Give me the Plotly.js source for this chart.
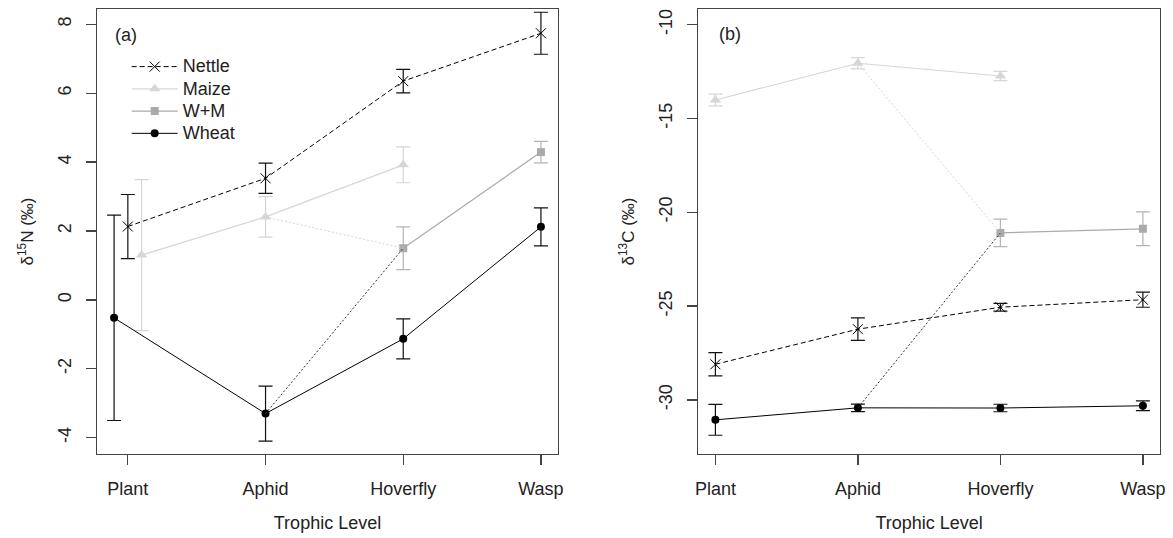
<!DOCTYPE html>
<html>
<head>
<meta charset="utf-8">
<script src="https://cdn.plot.ly/plotly-3.0.1.min.js"></script>
<style>html,body{margin:0;padding:0;background:#fff;}#chart{width:1173px;height:538px;}</style>
</head>
<body>
<div id="chart"></div>
<script>
// ---- data ----
const levels = ['Plant', 'Aphid', 'Hoverfly', 'Wasp'];
const seriesNames = ['Nettle', 'Maize', 'W+M', 'Wheat'];
const ticksN = [-4, -2, 0, 2, 4, 6, 8];
const ticksC = [-30, -25, -20, -15, -10];

// delta 15N (panel a)
const nettleN   = [2.13, 3.53, 6.35, 7.74];
const nettleNse = [0.93, 0.44, 0.34, 0.61];
const maizeN    = [1.30, 2.41, 3.92, null];
const maizeNse  = [2.19, 0.59, 0.52, null];
const wmN       = [null, null, 1.50, 4.29];
const wmNse     = [null, null, 0.62, 0.31];
const wheatN    = [-0.52, -3.30, -1.13, 2.12];
const wheatNse  = [2.98, 0.80, 0.58, 0.55];

// delta 13C (panel b)
const nettleC   = [-28.10, -26.23, -25.06, -24.66];
const nettleCse = [0.62, 0.60, 0.21, 0.40];
const maizeC    = [-14.02, -12.06, -12.74, null];
const maizeCse  = [0.31, 0.30, 0.25, null];
const wmC       = [null, null, -21.10, -20.88];
const wmCse     = [null, null, 0.73, 0.90];
const wheatC    = [-31.06, -30.42, -30.43, -30.31];
const wheatCse  = [0.82, 0.20, 0.20, 0.26];

// ---- styling ----
const FONT = 'Liberation Sans, Arial, sans-serif';
const TXT = '#222';
const LIGHT = '#d6d6d6';
const MID = '#aaaaaa';
const pos = levels.map((_, i) => i + 1);
// small horizontal dodge used at the Plant level in panel (a)
const dodgeA = {Nettle: [0,0,0,0], Maize: [0.1,0,0,0], 'W+M': [0,0,0,0], Wheat: [-0.1,0,0,0]};

const styles = {
  'Nettle': {line: {color: '#000', width: 1, dash: '5px,3px'}, marker: {symbol: 'x-thin-open', size: 10, color: '#000', line: {color: '#000', width: 1}}, err: '#111'},
  'Maize':  {line: {color: LIGHT, width: 1.2}, marker: {symbol: 'triangle-up', size: 10, color: LIGHT}, err: LIGHT},
  'W+M':    {line: {color: MID, width: 1.2}, marker: {symbol: 'square', size: 8, color: MID}, err: '#b4b4b4'},
  'Wheat':  {line: {color: '#000', width: 1}, marker: {symbol: 'circle', size: 8, color: '#000'}, err: '#111'}
};

function mk(name, vals, se, xa, ya, dodge, showleg) {
  const st = styles[name];
  const x = pos.map((p, i) => p + (dodge ? dodge[i] : 0));
  return {
    type: 'scatter', mode: 'lines+markers',
    name: '<span style="font-size:18px">' + name + '</span>',
    x: x, y: vals, xaxis: xa, yaxis: ya,
    connectgaps: false,
    line: st.line, marker: st.marker,
    error_y: {type: 'data', array: se, visible: true, color: st.err, thickness: 1.2, width: 7},
    showlegend: showleg, hoverinfo: 'x+y'
  };
}
function link(a, b, color, xa, ya) {
  // dotted connector from the Aphid value of a series to the W+M Hoverfly value
  return {type: 'scatter', mode: 'lines', x: [pos[1], pos[2]], y: [a, b], xaxis: xa, yaxis: ya,
    line: {color: color, width: 1, dash: '2px,2px'}, showlegend: false, hoverinfo: 'skip'};
}

const data = [
  mk('Nettle', nettleN, nettleNse, 'x', 'y', dodgeA.Nettle, true),
  mk('Maize', maizeN, maizeNse, 'x', 'y', dodgeA.Maize, true),
  mk('W+M', wmN, wmNse, 'x', 'y', dodgeA['W+M'], true),
  mk('Wheat', wheatN, wheatNse, 'x', 'y', dodgeA.Wheat, true),
  link(maizeN[1], wmN[2], LIGHT, 'x', 'y'),
  link(wheatN[1], wmN[2], '#333', 'x', 'y'),
  mk('Nettle', nettleC, nettleCse, 'x2', 'y2', null, false),
  mk('Maize', maizeC, maizeCse, 'x2', 'y2', null, false),
  mk('W+M', wmC, wmCse, 'x2', 'y2', null, false),
  mk('Wheat', wheatC, wheatCse, 'x2', 'y2', null, false),
  link(maizeC[1], wmC[2], LIGHT, 'x2', 'y2'),
  link(wheatC[1], wmC[2], '#333', 'x2', 'y2')
];

const W = 1173, H = 538;
const axBase = {
  showgrid: false, zeroline: false, showline: true, mirror: true,
  linecolor: '#444', linewidth: 1.3, ticks: 'outside', ticklen: 10, tickcolor: '#444', tickwidth: 1.3,
  tickfont: {family: FONT, size: 18, color: TXT}
};
const xBase = Object.assign({}, axBase, {
  tickmode: 'array', tickvals: pos, ticktext: levels, ticklabelstandoff: 8,
  title: {text: 'Trophic Level', font: {family: FONT, size: 18, color: TXT}, standoff: 18}
});
const yTitleFont = {family: FONT, size: 17, color: TXT};

const layout = {
  width: W, height: H,
  margin: {l: 0, r: 0, t: 0, b: 0},
  paper_bgcolor: '#fff', plot_bgcolor: '#fff',
  font: {family: FONT, color: TXT},
  xaxis: Object.assign({}, xBase, {domain: [97 / W, 558 / W], range: [0.776, 4.124], anchor: 'y'}),
  yaxis: Object.assign({}, axBase, {domain: [1 - 454 / H, 1 - 9 / H], range: [-4.473, 8.444], anchor: 'x',
    tickmode: 'array', tickvals: ticksN, ticktext: ticksN.map(String), tickangle: -90, ticklabelstandoff: 8,
    title: {text: 'δ<sup>15</sup>N (‰)', font: yTitleFont, standoff: 16}}),
  xaxis2: Object.assign({}, xBase, {domain: [698.3 / W, 1160 / W], range: [0.88, 4.12], anchor: 'y2'}),
  yaxis2: Object.assign({}, axBase, {domain: [1 - 454 / H, 1 - 9 / H], range: [-32.88, -9.17], anchor: 'x2',
    tickmode: 'array', tickvals: ticksC, ticktext: ticksC.map(String), tickangle: -90, ticklabelstandoff: 8,
    title: {text: 'δ<sup>13</sup>C (‰)', font: yTitleFont, standoff: 16}}),
  showlegend: true,
  legend: {x: 126.7 / W, y: 1 - 50.5 / H, xanchor: 'left', yanchor: 'top', bgcolor: 'rgba(0,0,0,0)',
    font: {family: FONT, size: 14.8, color: TXT}, tracegroupgap: 0, itemwidth: 46},
  annotations: [
    {text: '(a)', xref: 'paper', yref: 'paper', x: 126 / W, y: 1 - 35 / H, xanchor: 'center', yanchor: 'middle', showarrow: false, font: {family: FONT, size: 18, color: TXT}},
    {text: '(b)', xref: 'paper', yref: 'paper', x: 730 / W, y: 1 - 34 / H, xanchor: 'center', yanchor: 'middle', showarrow: false, font: {family: FONT, size: 18, color: TXT}}
  ]
};

Plotly.newPlot('chart', data, layout, {displayModeBar: false, staticPlot: true});
</script>
</body>
</html>
